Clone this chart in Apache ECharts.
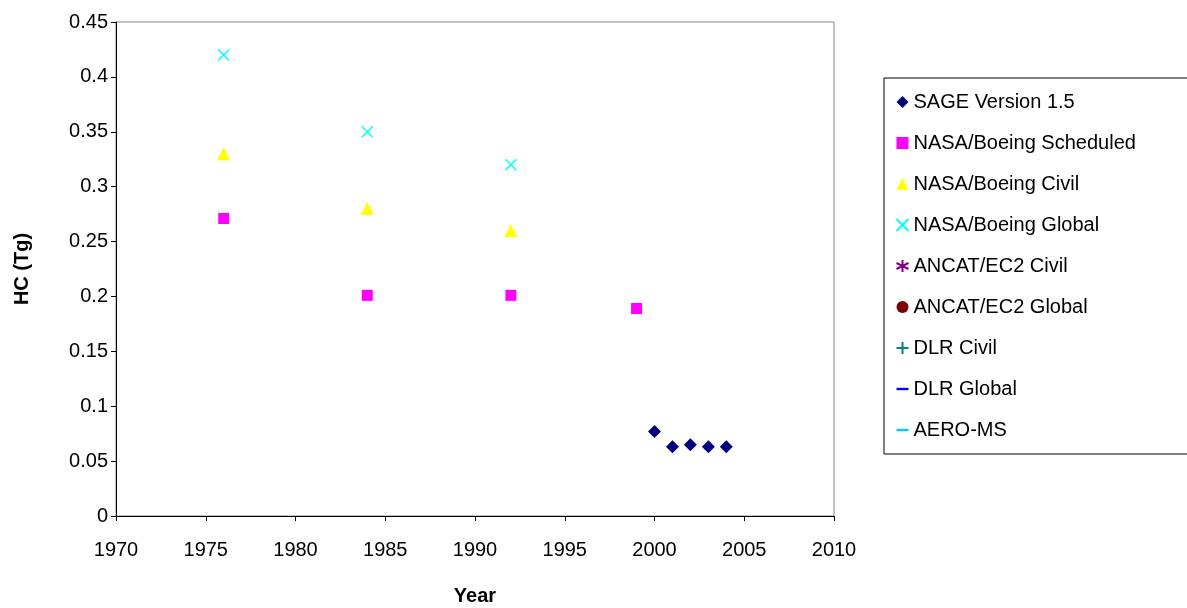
<!DOCTYPE html>
<html><head><meta charset="utf-8">
<script src="https://cdn.jsdelivr.net/npm/echarts@6/dist/echarts.min.js"></script>
<style>html,body{margin:0;background:#fff}#c{width:1187px;height:608px}</style>
</head><body><div id="c"></div>
<script>
var sageYears = [2000, 2001, 2002, 2003, 2004];
var sageVals = [0.077, 0.063, 0.065, 0.063, 0.063];
var schedYears = [1976, 1984, 1992, 1999];
var schedVals = [0.271, 0.201, 0.201, 0.189];
var civilYears = [1976, 1984, 1992];
var civilVals = [0.33, 0.28, 0.26];
var globalYears = [1976, 1984, 1992];
var globalVals = [0.42, 0.35, 0.32];

function pairs(xs, ys) { return xs.map(function (x, i) { return [x, ys[i]]; }); }

var xPath = 'path://M0,0L10,10M10,0L0,10';
var starPath = 'path://M5,0L5,10M0,2.5L10,7.5M0,7.5L10,2.5';
var plusPath = 'path://M5,0L5,10M0,5L10,5';
var dashPath = 'path://M0,4L10,4L10,6L0,6Z';

function sc(name, data, symbol, size, color, stroke) {
    return {
        name: name, type: 'scatter', data: data, symbol: symbol, symbolSize: size,
        itemStyle: stroke ? { color: 'none', borderColor: color, borderWidth: 1.5, opacity: 1 } : { color: color, opacity: 1 }
    };
}

var myChart = echarts.init(document.getElementById('c'));
myChart.setOption({
    animation: false,
    textStyle: { fontFamily: 'Liberation Sans, Arial' },
    grid: { left: 116, right: 353, top: 22, bottom: 92, show: true, borderColor: '#888', borderWidth: 1,
        containLabel: false, outerBoundsMode: 'none' },
    legend: {
        orient: 'vertical', left: 884, top: 78,
        padding: [14, 60, 14, 10], borderColor: '#000', borderWidth: 1,
        itemWidth: 12, itemHeight: 12, itemGap: 21,
        textStyle: { fontSize: 20, color: '#000', fontFamily: 'Liberation Sans, Arial' },
        data: ['SAGE Version 1.5', 'NASA/Boeing Scheduled', 'NASA/Boeing Civil', 'NASA/Boeing Global',
            'ANCAT/EC2 Civil', 'ANCAT/EC2 Global', 'DLR Civil', 'DLR Global', 'AERO-MS']
    },
    xAxis: {
        type: 'value', min: 1970, max: 2010, interval: 5,
        name: 'Year', nameLocation: 'middle', nameGap: 70,
        nameTextStyle: { fontSize: 20, fontWeight: 'bold', color: '#000' },
        axisLine: { lineStyle: { color: '#000' } },
        axisTick: { lineStyle: { color: '#000' } },
        axisLabel: { fontSize: 20, color: '#000', margin: 24, formatter: function (v) { return String(v); } },
        splitLine: { show: false }
    },
    yAxis: {
        type: 'value', min: 0, max: 0.45, interval: 0.05,
        name: 'HC (Tg)', nameLocation: 'middle', nameGap: 84, nameRotate: 90,
        nameTextStyle: { fontSize: 20, fontWeight: 'bold', color: '#000' },
        axisLine: { show: true, lineStyle: { color: '#000' } },
        axisTick: { show: true, lineStyle: { color: '#000' } },
        axisLabel: { fontSize: 20, color: '#000', formatter: function (v) { return +v.toFixed(2) + ''; } },
        splitLine: { show: false }
    },
    series: [
        sc('SAGE Version 1.5', pairs(sageYears, sageVals), 'diamond', 13, '#000080'),
        sc('NASA/Boeing Scheduled', pairs(schedYears, schedVals), 'rect', 11, '#ff00ff'),
        sc('NASA/Boeing Civil', pairs(civilYears, civilVals), 'triangle', 13, '#ffff00'),
        sc('NASA/Boeing Global', pairs(globalYears, globalVals), xPath, 11, '#00ffff', true),
        sc('ANCAT/EC2 Civil', [], starPath, 11, '#800080', true),
        sc('ANCAT/EC2 Global', [], 'circle', 11, '#800000'),
        sc('DLR Civil', [], plusPath, 11, '#008080', true),
        sc('DLR Global', [], dashPath, 9, '#0000ff'),
        sc('AERO-MS', [], dashPath, 13, '#00ccff')
    ]
});
</script></body></html>
